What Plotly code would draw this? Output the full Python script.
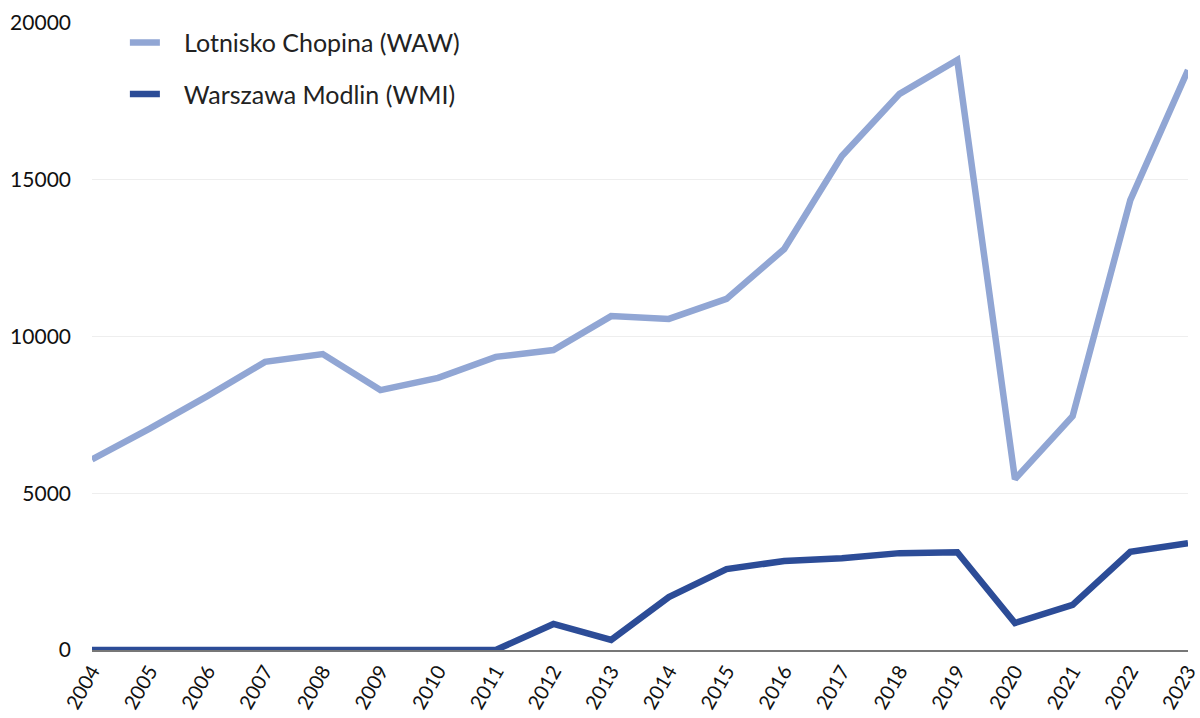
import plotly.graph_objects as go

years = [str(y) for y in range(2004, 2024)]
waw = [6080, 7060, 8100, 9190, 9440, 8290, 8680, 9350, 9570, 10650,
       10560, 11200, 12790, 15760, 17740, 18820, 5450, 7460, 14350, 18500]
wmi = [0, 0, 0, 0, 0, 0, 0, 0, 830, 320,
       1690, 2580, 2840, 2930, 3090, 3120, 860, 1440, 3130, 3410]
names = ["Lotnisko Chopina (WAW)", "Warszawa Modlin (WMI)"]

font_family = "Lato, 'Open Sans', sans-serif"
pad = "\u00a0\u00a0\u00a0"

fig = go.Figure()
fig.add_trace(go.Scatter(x=years, y=waw, mode="lines", name=pad + names[0],
                         line=dict(color="#91A6D4", width=6.5), legendgroup="a"))
fig.add_trace(go.Scatter(x=years, y=wmi, mode="lines", name=pad + names[1],
                         line=dict(color="#2C4C97", width=6.5), legendgroup="b"))

fig.update_layout(
    width=1200, height=718,
    margin=dict(l=92, r=12, t=23, b=68),
    paper_bgcolor="white", plot_bgcolor="white",
    font=dict(family=font_family, size=20, color="#111111"),
    showlegend=True,
    legend=dict(x=0.03, y=1.005, xanchor="left", yanchor="top",
                font=dict(size=25, color="#222222"), bgcolor="rgba(0,0,0,0)",
                tracegroupgap=16, traceorder="grouped"),
    xaxis=dict(type="category", showgrid=False, tickangle=-60, automargin=False,
               showline=True, linecolor="#777777", linewidth=1.5,
               ticks="", range=[0, 19], tickfont=dict(size=20)),
    yaxis=dict(range=[0, 20000], dtick=5000, tickformat="d", showgrid=True,
               gridcolor="#EEEEEE", automargin=False,
               gridwidth=1, zeroline=False, ticks="", tickfont=dict(size=21),
               ticklabelstandoff=20),
)

fig.write_html("out.html")
